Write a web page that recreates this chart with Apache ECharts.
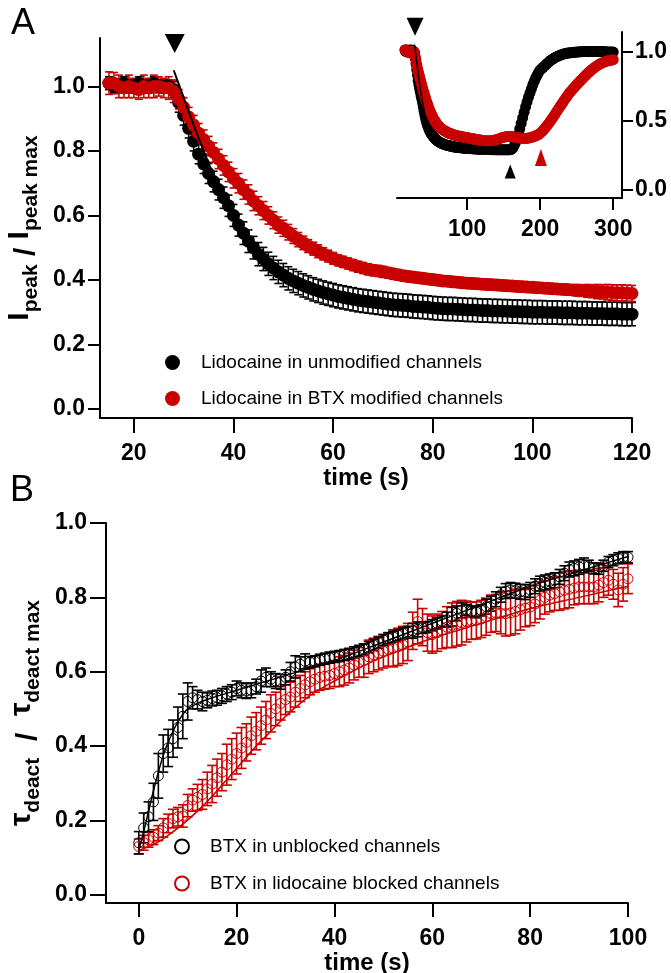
<!DOCTYPE html>
<html><head><meta charset="utf-8">
<script src="https://cdn.jsdelivr.net/npm/echarts@6/dist/echarts.min.js"></script>
<style>html,body{margin:0;padding:0;background:#fff}#c{width:671px;height:973px}</style>
</head><body><div id="c"></div>
<script>
// ---------- Panel A (main) ----------
const tA = [15,16,17,18,19,20,21,22,23,24,25,26,27,28,29,30,31,32,33,34,35,36,37,38,39,40,
41,42,43,44,45,46,47,48,49,50,51,52,53,54,55,56,57,58,59,60,
61,62,63,64,65,66,67,68,69,70,71,72,73,74,75,76,77,78,79,80,
81,82,83,84,85,86,87,88,89,90,91,92,93,94,95,96,97,98,99,100,
101,102,103,104,105,106,107,108,109,110,111,112,113,114,115,116,117,118,119,120];
const blackA = [1.01,1.00,1.00,1.01,1.00,1.00,1.01,1.00,1.00,1.01,1.00,1.00,1.00,
0.99,0.95,0.91,0.87,0.83,0.79,0.76,0.73,0.705,0.68,0.655,0.63,0.60,
0.57,0.545,0.52,0.50,0.48,0.465,0.45,0.437,0.425,0.415,0.405,0.397,0.39,0.383,0.377,0.371,0.366,0.361,0.357,0.353,
0.349,0.346,0.343,0.340,0.337,0.335,0.333,0.331,0.329,0.327,0.325,0.323,0.322,0.321,0.320,0.318,0.317,0.316,0.315,0.313,
0.312,0.311,0.310,0.310,0.309,0.308,0.307,0.307,0.306,0.305,0.305,0.304,0.304,0.303,0.303,0.302,0.302,0.301,0.301,0.300,
0.300,0.300,0.299,0.299,0.299,0.298,0.298,0.298,0.297,0.297,0.297,0.296,0.296,0.296,0.295,0.295,0.295,0.294,0.294,0.294];
const blackErrA = [0.02,0.02,0.02,0.02,0.02,0.02,0.02,0.02,0.02,0.02,0.02,0.02,0.02,
0.025,0.03,0.03,0.03,0.03,0.03,0.03,0.031,0.032,0.032,0.033,0.033,0.034,
0.034,0.035,0.035,0.035,0.036,0.036,0.036,0.036,0.036,0.036,0.036,0.036,0.036,0.036,0.036,0.036,0.036,0.036,0.036,0.036,
0.036,0.036,0.036,0.036,0.036,0.036,0.036,0.036,0.036,0.036,0.036,0.036,0.036,0.036,0.036,0.036,0.036,0.036,0.036,0.036,
0.036,0.036,0.036,0.036,0.036,0.036,0.036,0.036,0.036,0.036,0.036,0.036,0.036,0.036,0.036,0.036,0.036,0.036,0.036,0.036,
0.036,0.036,0.036,0.036,0.036,0.036,0.036,0.036,0.036,0.036,0.036,0.036,0.036,0.036,0.036,0.036,0.036,0.036,0.036,0.036];
const redA = [1.01,1.01,1.00,0.995,1.00,0.995,0.99,1.00,0.995,1.00,1.00,0.995,0.995,
0.985,0.96,0.935,0.905,0.88,0.855,0.835,0.815,0.795,0.775,0.755,0.735,0.715,
0.70,0.68,0.665,0.645,0.63,0.615,0.60,0.585,0.57,0.56,0.548,0.536,0.525,0.515,0.505,0.497,0.489,0.481,0.474,0.467,
0.461,0.456,0.451,0.446,0.441,0.437,0.433,0.43,0.428,0.425,0.422,0.419,0.416,0.413,0.411,0.409,0.407,0.405,0.403,0.401,
0.399,0.397,0.396,0.394,0.393,0.391,0.39,0.389,0.388,0.387,0.386,0.385,0.384,0.383,0.382,0.381,0.38,0.379,0.378,0.377,
0.376,0.375,0.374,0.373,0.372,0.371,0.370,0.369,0.368,0.367,0.366,0.365,0.364,0.363,0.362,0.361,0.360,0.360,0.359,0.358];
const redErrA = [0.035,0.033,0.035,0.03,0.035,0.03,0.03,0.035,0.03,0.035,0.03,0.03,0.035,
0.035,0.03,0.03,0.03,0.03,0.03,0.03,0.03,0.03,0.03,0.03,0.03,0.03,
0.03,0.03,0.03,0.03,0.028,0.028,0.027,0.026,0.025,0.025,0.024,0.023,0.022,0.021,0.02,0.02,0.02,0.019,0.018,0.018,
0.017,0.017,0.017,0.017,0.017,0.017,0.017,0.017,0.017,0.017,0.016,0.016,0.016,0.016,0.016,0.016,0.016,0.016,0.016,0.016,
0.016,0.016,0.016,0.016,0.016,0.016,0.016,0.016,0.016,0.016,0.016,0.016,0.016,0.016,0.016,0.016,0.016,0.016,0.016,0.016,
0.016,0.016,0.016,0.016,0.016,0.016,0.016,0.016,0.018,0.018,0.02,0.02,0.022,0.022,0.024,0.024,0.025,0.025,0.025,0.025];
const fitA_t = [28,30,32,34,36,38,40,43,46,50,55,60,70,80,90,100,110,120];
const fitA_v = [1.05,0.965,0.88,0.80,0.725,0.66,0.605,0.535,0.478,0.42,0.38,0.355,0.327,0.312,0.303,0.298,0.295,0.293];
const xTicksA = [20,40,60,80,100,120];
const yTicksA = [0,0.2,0.4,0.6,0.8,1.0];

// ---------- Panel A inset (first part = main panel data, then the extension below) ----------
const tInExt = [122,124,126,128,130,132,134,136,138,140,142,144,146,148,150,152,154,156,158,160,
162,164,166,168,170,172,174,176,178,180,182,184,186,188,190,192,194,196,198,200,
202,204,206,208,210,212,214,216,218,220,222,224,226,228,230,232,234,236,238,240,
242,244,246,248,250,252,254,256,258,260,262,264,266,268,270,272,274,276,278,280,282,284,286,288,290,292,294,296,298,300];
const blackInExt = [0.294,0.293,0.293,0.292,0.292,0.292,0.291,0.291,0.291,0.29,0.29,0.29,0.29,0.29,0.29,0.29,0.29,0.29,0.29,0.292,
0.30,0.315,0.34,0.37,0.40,0.44,0.48,0.52,0.56,0.60,0.635,0.67,0.70,0.73,0.76,0.785,0.81,0.83,0.85,0.865,
0.875,0.885,0.895,0.905,0.915,0.925,0.935,0.94,0.948,0.955,0.96,0.965,0.97,0.974,0.978,0.981,0.984,0.986,0.988,0.99,
0.99,0.992,0.993,0.994,0.995,0.996,0.997,0.998,0.998,0.999,1.0,1.0,1.0,1.0,1.0,1.0,1.0,1.0,1.0,1.0,1.0,1.0,1.0,1.0,0.998,0.996,0.995,0.995,0.995,0.995];
const redInExt = [0.357,0.356,0.356,0.355,0.355,0.355,0.356,0.358,0.36,0.363,0.366,0.37,0.374,0.378,0.381,0.383,0.385,0.386,0.386,0.385,
0.384,0.382,0.38,0.378,0.376,0.375,0.374,0.373,0.372,0.372,0.373,0.375,0.377,0.38,0.383,0.387,0.391,0.396,0.402,0.41,
0.42,0.43,0.442,0.455,0.468,0.482,0.497,0.512,0.528,0.544,0.56,0.576,0.592,0.608,0.624,0.64,0.655,0.67,0.685,0.70,
0.712,0.724,0.736,0.748,0.76,0.771,0.782,0.793,0.804,0.815,0.826,0.836,0.846,0.856,0.865,0.874,0.882,0.89,0.897,0.904,0.91,0.915,0.92,0.924,0.928,0.931,0.934,0.936,0.938,0.94];
const xTicksIn = [100,200,300];
const yTicksIn = [0,0.5,1.0];

// ---------- Panel B ----------
const tB = [0,1,2,3,4,5,6,7,8,9,10,11,12,13,14,15,16,17,18,19,20,21,22,23,24,25,26,27,28,29,30,
31,32,33,34,35,36,37,38,39,40,41,42,43,44,45,46,47,48,49,50,51,52,53,54,55,56,57,58,59,60,
61,62,63,64,65,66,67,68,69,70,71,72,73,74,75,76,77,78,79,80,81,82,83,84,85,86,87,88,89,90,
91,92,93,94,95,96,97,98,99,100];
const blackB = [0.14,0.18,0.21,0.25,0.32,0.38,0.395,0.42,0.45,0.48,0.52,
0.53,0.525,0.52,0.523,0.528,0.53,0.535,0.54,0.545,0.555,
0.55,0.548,0.55,0.56,0.575,0.585,0.58,0.575,0.573,0.585,
0.60,0.613,0.62,0.628,0.626,0.628,0.632,0.635,0.638,0.64,
0.642,0.645,0.648,0.652,0.656,0.66,0.666,0.672,0.678,0.685,
0.69,0.694,0.698,0.703,0.707,0.71,0.714,0.718,0.72,0.725,
0.73,0.735,0.74,0.748,0.757,0.765,0.766,0.762,0.76,0.765,
0.775,0.783,0.795,0.807,0.817,0.82,0.818,0.815,0.814,0.82,
0.83,0.837,0.84,0.843,0.846,0.855,0.865,0.875,0.878,0.882,
0.886,0.885,0.878,0.877,0.885,0.895,0.90,0.905,0.908,0.908];
const blackErrB = [0.03,0.04,0.04,0.05,0.06,0.05,0.05,0.05,0.055,0.06,0.05,
0.03,0.025,0.025,0.02,0.02,0.02,0.02,0.02,0.02,0.02,
0.02,0.02,0.02,0.02,0.03,0.025,0.02,0.02,0.02,0.02,
0.025,0.03,0.02,0.02,0.015,0.015,0.015,0.015,0.015,0.015,
0.015,0.015,0.015,0.015,0.015,0.015,0.015,0.015,0.015,0.015,
0.015,0.015,0.015,0.015,0.015,0.02,0.02,0.015,0.015,0.015,
0.015,0.015,0.02,0.025,0.02,0.02,0.015,0.015,0.015,0.015,
0.02,0.02,0.02,0.02,0.02,0.02,0.02,0.02,0.02,0.02,
0.02,0.02,0.02,0.02,0.02,0.02,0.02,0.02,0.02,0.02,
0.02,0.015,0.015,0.015,0.015,0.015,0.015,0.015,0.015,0.015];
const redB = [0.13,0.14,0.148,0.155,0.166,0.18,0.192,0.205,0.21,0.212,0.24,
0.255,0.262,0.27,0.285,0.298,0.315,0.33,0.35,0.365,0.38,
0.395,0.41,0.428,0.44,0.455,0.47,0.488,0.50,0.515,0.525,
0.532,0.545,0.555,0.565,0.573,0.58,0.585,0.588,0.59,0.595,
0.60,0.604,0.61,0.618,0.625,0.63,0.64,0.645,0.65,0.655,
0.66,0.663,0.667,0.672,0.68,0.71,0.735,0.72,0.705,0.70,
0.705,0.712,0.72,0.725,0.729,0.732,0.735,0.737,0.738,0.742,
0.748,0.756,0.758,0.757,0.756,0.758,0.762,0.767,0.771,0.774,
0.782,0.792,0.80,0.806,0.81,0.815,0.819,0.822,0.825,0.828,
0.828,0.828,0.828,0.833,0.84,0.846,0.835,0.82,0.835,0.85];
const redErrB = [0.02,0.02,0.02,0.02,0.02,0.025,0.025,0.025,0.025,0.03,0.03,
0.03,0.035,0.04,0.045,0.05,0.05,0.05,0.055,0.055,0.055,
0.055,0.05,0.05,0.05,0.05,0.05,0.05,0.045,0.045,0.04,
0.04,0.04,0.035,0.035,0.035,0.035,0.035,0.035,0.035,0.035,
0.04,0.04,0.04,0.04,0.04,0.045,0.045,0.045,0.045,0.045,
0.045,0.05,0.05,0.05,0.05,0.05,0.06,0.05,0.05,0.05,
0.05,0.05,0.055,0.06,0.06,0.06,0.055,0.05,0.05,0.05,
0.05,0.05,0.05,0.055,0.06,0.06,0.06,0.055,0.05,0.05,
0.05,0.05,0.045,0.045,0.045,0.05,0.05,0.05,0.045,0.045,
0.045,0.045,0.045,0.045,0.04,0.04,0.04,0.045,0.045,0.04];
const fitBk_t = [0,1,2,3,4,5,6,7,8,9,10,12,15,20,30,40,50,60,70,80,90,100];
const fitBk_v = [0.12,0.17,0.225,0.28,0.33,0.375,0.41,0.44,0.465,0.485,0.50,0.515,0.53,0.55,0.59,0.63,0.68,0.73,0.78,0.83,0.87,0.91];
const fitBr_t = [0,3,6,9,12,15,18,21,24,27,30,33,36,40,45,50,60,70,80,90,100];
const fitBr_v = [0.12,0.135,0.16,0.19,0.225,0.265,0.31,0.355,0.40,0.44,0.48,0.515,0.545,0.575,0.61,0.64,0.69,0.73,0.77,0.80,0.83];
const xTicksB = [0,20,40,60,80,100];
const yTicksB = [0,0.2,0.4,0.6,0.8,1.0];

const NAMES = ['Lidocaine in unmodified channels','Lidocaine in BTX modified channels','BTX in unblocked channels','BTX in lidocaine blocked channels'];

// ---------- helpers ----------
const FONT = '"Liberation Sans", Arial, Helvetica, sans-serif';
const RED = '#c80000';
function zip(t, v){ return t.map((x,i)=>[x, v[i]]); }
function errData(t, v, e){ return t.map((x,i)=>[x, v[i]-e[i], v[i]+e[i]]); }
function errSeries(xi, data, color, capW, lw){
  return { type:'custom', xAxisIndex:xi, yAxisIndex:xi, data:data, encode:{x:0,y:[1,2]}, silent:true, clip:false,
    renderItem:function(params, api){
      const x=api.value(0), lo=api.value(1), hi=api.value(2);
      const a=api.coord([x,lo]), b=api.coord([x,hi]);
      const st={stroke:color, lineWidth:lw};
      return {type:'group', children:[
        {type:'line', shape:{x1:a[0],y1:a[1],x2:b[0],y2:b[1]}, style:st},
        {type:'line', shape:{x1:a[0]-capW/2,y1:a[1],x2:a[0]+capW/2,y2:a[1]}, style:st},
        {type:'line', shape:{x1:b[0]-capW/2,y1:b[1],x2:b[0]+capW/2,y2:b[1]}, style:st}
      ]};
    }};
}
const tickLbl = {fontFamily:FONT, fontWeight:'bold', fontSize:23, color:'#000'};
function xAx(gi, min, max, ticks, tickLen, margin, name, gap){
  return { type:'value', gridIndex:gi, min:min, max:max,
    axisLine:{show:true, onZero:false, lineStyle:{color:'#000', width:2}},
    axisTick:{show:true, length:tickLen, customValues:ticks, lineStyle:{color:'#000', width:2}},
    axisLabel:Object.assign({customValues:ticks, margin:margin}, tickLbl),
    splitLine:{show:false}, name:name, nameLocation:'middle', nameGap:gap,
    nameTextStyle:{fontFamily:FONT, fontWeight:'bold', fontSize:24, color:'#000'} };
}
function yAx(gi, min, max, ticks, tickLen, margin, pos, name, gap, rich){
  return { type:'value', gridIndex:gi, min:min, max:max, position:pos,
    axisLine:{show:true, onZero:false, lineStyle:{color:'#000', width:2}},
    axisTick:{show:true, length:tickLen, customValues:ticks, lineStyle:{color:'#000', width:2}},
    axisLabel:Object.assign({customValues:ticks, margin:margin, formatter:v=>v.toFixed(1)}, tickLbl),
    splitLine:{show:false}, name:name||'', nameLocation:'middle', nameGap:gap||0, nameRotate:90,
    nameTextStyle:{fontFamily:FONT, fontWeight:'bold', color:'#000', rich:rich||{}} };
}
const richName = {
  m:{fontFamily:FONT, fontWeight:'bold', fontSize:30, lineHeight:37, verticalAlign:'top', color:'#000'},
  sl:{fontFamily:FONT, fontWeight:'bold', fontSize:30, verticalAlign:'bottom', color:'#000'},
  s:{fontFamily:FONT, fontWeight:'bold', fontSize:21, verticalAlign:'bottom', color:'#000'}
};

const option = {
  animation:false, backgroundColor:'#fff',
  grid:[
    {left:100, top:38, width:532, height:380, outerBoundsMode:'none', containLabel:false},
    {left:397, top:32, width:225, height:166, outerBoundsMode:'none', containLabel:false},
    {left:106, top:523, width:522, height:380, outerBoundsMode:'none', containLabel:false}
  ],
  xAxis:[
    xAx(0, 13.2, 120, xTicksA, 15, 24, 'time (s)', 44),
    xAx(1, 4, 312, xTicksIn, 12, 20, '', 0),
    xAx(2, -6.7, 100, xTicksB, 14, 24, 'time (s)', 45)
  ],
  yAxis:[
    yAx(0, -0.028, 1.15, yTicksA, 12, 15, 'left', '{m|I}{s|peak}{sl| / }{m|I}{s|peak max}', 42, richName),
    yAx(1, -0.058, 1.14, yTicksIn, 11, 13, 'right'),
    yAx(2, -0.022, 1.0, yTicksB, 16, 19, 'left', '{m|τ}{s|deact}{sl|  /  }{m|τ}{s|deact max}', 48, richName)
  ],
  legend:[
    { orient:'vertical', left:160, top:348, itemWidth:15, itemHeight:15, itemGap:17, selectedMode:false,
      data:[{name:NAMES[0], icon:'circle'},{name:NAMES[1], icon:'circle'}],
      textStyle:{fontFamily:FONT, fontSize:19, color:'#000', padding:[0,0,0,16]} },
    { orient:'vertical', left:169, top:832, itemWidth:14, itemHeight:14, itemGap:18, selectedMode:false,
      data:[{name:NAMES[2], icon:'circle'},{name:NAMES[3], icon:'circle'}],
      textStyle:{fontFamily:FONT, fontSize:19, color:'#000', padding:[0,0,0,16]} }
  ],
  graphic:[
    {type:'text', left:11, top:6, style:{text:'A', fontFamily:FONT, fontSize:36, fill:'#000'}},
    {type:'text', left:10, top:473, style:{text:'B', fontFamily:FONT, fontSize:36, fill:'#000'}}
  ],
  series:[
    // A main
    errSeries(0, errData(tA, blackA, blackErrA), '#000', 8, 1.6),
    {type:'scatter', name:NAMES[0], xAxisIndex:0, yAxisIndex:0, data:zip(tA, blackA), symbol:'circle', symbolSize:13, itemStyle:{color:'#000', opacity:1}, silent:true},
    errSeries(0, errData(tA, redA, redErrA), RED, 8, 1.6),
    {type:'scatter', name:NAMES[1], xAxisIndex:0, yAxisIndex:0, data:zip(tA, redA), symbol:'circle', symbolSize:13, itemStyle:{color:RED, opacity:1}, silent:true},
    {type:'line', xAxisIndex:0, yAxisIndex:0, data:zip(fitA_t, fitA_v), smooth:0.3, showSymbol:false, symbol:'none', lineStyle:{color:'#000', width:2}, silent:true},
    {type:'scatter', xAxisIndex:0, yAxisIndex:0, data:[[28.2,1.133]], symbol:'triangle', symbolRotate:180, symbolSize:[20,19], itemStyle:{color:'#000', opacity:1}, clip:false, silent:true},
    // inset
    {type:'scatter', name:'inset black', xAxisIndex:1, yAxisIndex:1, data:zip(tA, blackA).concat(zip(tInExt, blackInExt)), symbol:'circle', symbolSize:11, itemStyle:{color:'#000', opacity:1}, silent:true},
    {type:'scatter', name:'inset red', xAxisIndex:1, yAxisIndex:1, data:zip(tA, redA).concat(zip(tInExt, redInExt)), symbol:'circle', symbolSize:11, itemStyle:{color:RED, opacity:1}, silent:true},
    {type:'line', xAxisIndex:1, yAxisIndex:1, data:zip(fitA_t, fitA_v), smooth:0.3, showSymbol:false, symbol:'none', lineStyle:{color:'#000', width:1.5}, silent:true},
    {type:'scatter', xAxisIndex:1, yAxisIndex:1, data:[[28.7,1.178]], symbol:'triangle', symbolRotate:180, symbolSize:[17,18], itemStyle:{color:'#000', opacity:1}, clip:false, silent:true},
    {type:'scatter', xAxisIndex:1, yAxisIndex:1, data:[[159,0.134]], symbol:'triangle', symbolSize:[11,14], itemStyle:{color:'#000', opacity:1}, clip:false, silent:true},
    {type:'scatter', xAxisIndex:1, yAxisIndex:1, data:[[201,0.235]], symbol:'triangle', symbolSize:[12,17], itemStyle:{color:RED, opacity:1}, clip:false, silent:true},
    // B
    errSeries(2, errData(tB, redB, redErrB), RED, 10, 1.6),
    {type:'scatter', name:NAMES[3], xAxisIndex:2, yAxisIndex:2, data:zip(tB, redB), symbol:'circle', symbolSize:10, itemStyle:{color:'rgba(0,0,0,0)', borderColor:RED, borderWidth:1, opacity:1}, silent:true},
    errSeries(2, errData(tB, blackB, blackErrB), '#000', 10, 1.6),
    {type:'scatter', name:NAMES[2], xAxisIndex:2, yAxisIndex:2, data:zip(tB, blackB), symbol:'circle', symbolSize:10, itemStyle:{color:'rgba(0,0,0,0)', borderColor:'#000', borderWidth:1, opacity:1}, silent:true},
    {type:'line', xAxisIndex:2, yAxisIndex:2, data:zip(fitBr_t, fitBr_v), smooth:0.3, showSymbol:false, symbol:'none', lineStyle:{color:RED, width:1.5}, silent:true},
    {type:'line', xAxisIndex:2, yAxisIndex:2, data:zip(fitBk_t, fitBk_v), smooth:0.3, showSymbol:false, symbol:'none', lineStyle:{color:'#000', width:1.5}, silent:true}
  ]
};
const chart = echarts.init(document.getElementById('c'), null, {renderer:'canvas'});
chart.setOption(option);
</script></body></html>
